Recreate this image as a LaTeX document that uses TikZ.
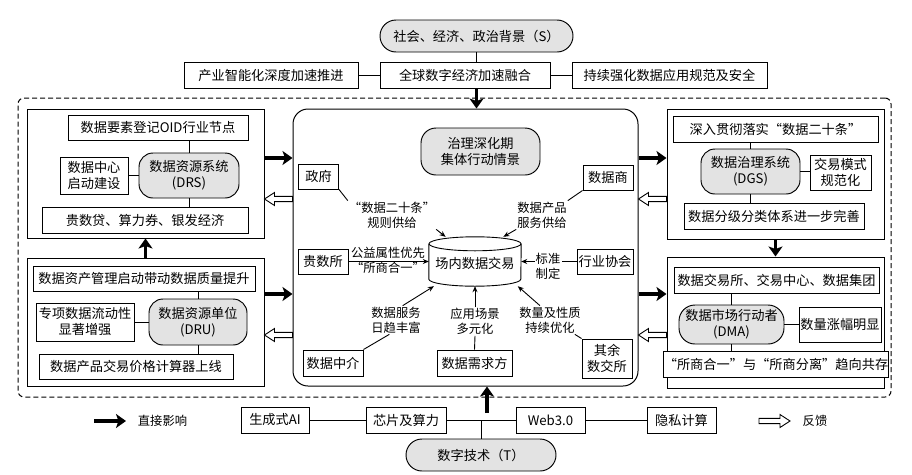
\documentclass[tikz,border=0pt]{standalone}
\usepackage{fontspec}
\setmainfont{Noto Sans CJK SC}
\usetikzlibrary{arrows.meta,calc}
\newcommand\boxfont{\fontsize{13.2}{16}\selectfont}
\newcommand\lblfont{\fontsize{12.3}{15}\selectfont}
\tikzset{
  wh/.style 2 args={minimum width=#1pt, minimum height=#2pt},
  box/.style={draw, line width=0.95pt, fill=white, inner sep=0pt, align=center, font=\boxfont},
  pill/.style={box, fill=black!11, rounded corners=14pt},
  grp/.style={draw, line width=1pt},
  lbl/.style={align=center, font=\lblfont, inner sep=1pt},
  conn/.style={line width=0.9pt},
  arr/.style={conn, -{Stealth[length=6pt,width=5pt]}},
  bigarr/.style={line width=3.4pt, -{Stealth[length=10pt,width=14pt,inset=2.5pt]}},
  hollowline/.style={line width=0.9pt, fill=white, line join=miter},
}
% hollow (feedback) arrow from #1 to #2
\newcommand\hollowarrow[2]{%
  \path (#1) coordinate (ha-s) (#2) coordinate (ha-e);
  \coordinate (ha-b) at ($(ha-e)!10pt!(ha-s)$);
  \draw[hollowline] ($(ha-s)!2.6pt!90:(ha-e)$) -- ($(ha-b)!2.6pt!90:(ha-e)$)
    -- ($(ha-b)!6.5pt!90:(ha-e)$) -- (ha-e) -- ($(ha-b)!6.5pt!-90:(ha-e)$)
    -- ($(ha-b)!2.6pt!-90:(ha-e)$) -- ($(ha-s)!2.6pt!-90:(ha-e)$) -- cycle;
}
\begin{document}
\begin{tikzpicture}[x=1pt,y=-1pt]
\useasboundingbox (0,0) rectangle (912,474);
% helper levels
\coordinate (h1) at (0,158);
\coordinate (h2) at (0,199);
\coordinate (h3) at (0,294);
\coordinate (h4) at (0,335);
% top
\node[pill, wh={193}{32}, rounded corners=16pt] (S) at (476.5,36) {社会、经济、政治背景（S）};
\node[box, wh={174}{26}] (b1) at (271,75) {产业智能化深度加速推进};
\node[box, wh={170}{26}] (b2) at (465,75) {全球数字经济加速融合};
\node[box, wh={195}{26}] (b3) at (669.5,75) {持续强化数据应用规范及安全};
\draw[conn] (S.south) -- (S.south |- b2.north);
\draw[conn] (b1.east) -- (b2.west);
\draw[conn] (b2.east) -- (b3.west);
% dashed frame
\node[draw, line width=1pt, dash pattern=on 5pt off 3pt, rounded corners=6pt, wh={873}{299}] (D) at (454.5,247.5) {};
% center box
\node[draw, line width=1pt, rounded corners=15pt, wh={345}{277}] (C) at (465.5,247.5) {};
\draw[bigarr] (S.south |- b2.south) -- (S.south |- C.north);
% left top group
\node[grp, wh={237}{129}] (LT) at (145.5,173.5) {};
\node[box, wh={180}{25}] (n1) at (158,127.5) {数据要素登记OID行业节点};
\node[box, wh={68}{37}] (n2) at (94,175.5) {数据中心\\启动建设};
\node[pill, wh={100}{45}] (DRS) at (189,175.5) {数据资源系统\\(DRS)};
\node[box, wh={206}{26}] (n3) at (145,220) {贵数贷、算力券、银发经济};
\draw[conn] (DRS.north) -- (DRS.north |- n1.south);
\draw[conn] (DRS.south) -- (DRS.south |- n3.north);
\draw[conn] (n2.east) -- (DRS.west);
% left bottom group
\node[grp, wh={237}{128}] (LB) at (145.5,322) {};
\node[box, wh={222}{25}] (m1) at (144,278.5) {数据资产管理启动带动数据质量提升};
\node[box, wh={98}{38}] (m2) at (85,322) {专项数据流动性\\显著增强};
\node[pill, wh={98}{46}] (DRU) at (198,322) {数据资源单位\\(DRU)};
\node[box, wh={194}{25}] (m3) at (136,366.5) {数据产品交易价格计算器上线};
\draw[conn] (DRU.north) -- (DRU.north |- m1.south);
\draw[conn] (DRU.south) -- (DRU.south |- m3.north);
\draw[conn] (m2.east) -- (DRU.west);
\draw[bigarr] (LB.north) -- (LT.south);
% right top group
\node[grp, wh={217}{130}] (RT) at (775.5,174) {};
\node[box, wh={205}{26}] (r1) at (775.5,129) {深入贯彻落实“数据二十条”};
\node[pill, wh={99}{45}] (DGS) at (750.5,171.5) {数据治理系统\\(DGS)};
\node[box, wh={61}{35}] (r2) at (840.5,172.5) {交易模式\\规范化};
\node[box, wh={180}{26}] (r3) at (774,216) {数据分级分类体系进一步完善};
\draw[conn] (DGS.north) -- (DGS.north |- r1.south);
\draw[conn] (DGS.south) -- (DGS.south |- r3.north);
\draw[conn] (DGS.east) -- (DGS.east -| r2.west);
% right bottom group
\node[grp, wh={217}{131}] (RB) at (775.5,322.5) {};
\node[box, wh={205}{26}] (s1) at (776.5,280) {数据交易所、交易中心、数据集团};
\node[pill, wh={105}{39}, rounded corners=16pt] (DMA) at (731.5,324.5) {数据市场行动者\\(DMA)};
\node[box, wh={82}{35}] (s2) at (840,324.5) {数量涨幅明显};
\node[box, wh={206}{26}] (s3) at (776,364) {“所商合一”与“所商分离”趋向共存};
\draw[conn] (DMA.north) -- (DMA.north |- s1.south);
\draw[conn] (DMA.south) -- (DMA.south |- s3.north);
\draw[conn] (DMA.east) -- (s2.west);
\draw[bigarr] (RT.south) -- (RB.north);
% arrows between groups and center
\draw[bigarr] (LT.east |- h1) -- (C.west |- h1);
\hollowarrow{C.west |- h2}{LT.east |- h2}
\draw[bigarr] (LB.east |- h3) -- (C.west |- h3);
\hollowarrow{C.west |- h4}{LB.east |- h4}
\draw[bigarr] (C.east |- h1) -- (RT.west |- h1);
\hollowarrow{RT.west |- h2}{C.east |- h2}
\draw[bigarr] (C.east |- h3) -- (RB.west |- h3);
\hollowarrow{RB.west |- h4}{C.east |- h4}
% center contents
\node[pill, wh={119}{47}, rounded corners=15pt] (P) at (480.5,151.5) {治理深化期\\集体行动情景};
\node[box, wh={40}{25}] (gov) at (318.5,176.5) {政府};
\node[box, wh={50}{25}] (dealer) at (608,177.5) {数据商};
\node[box, wh={50}{25}] (gsx) at (323,261.5) {贵数所};
\node[box, wh={56}{25}] (assoc) at (605,261.5) {行业协会};
\node[box, wh={60}{26}] (agent) at (333,363) {数据中介};
\node[box, wh={75}{26}] (demand) at (474.5,363) {数据需求方};
\node[box, wh={50}{39}] (other) at (607,358.5) {其余\\数交所};
% cylinder
\node[wh={92}{49}, inner sep=0pt, font=\boxfont] (cyl) at (475,261.5) {};
\draw[line width=0.9pt, fill=white] (cyl.north west) ++(0,7) -- ([yshift=7pt]cyl.south west)
  arc[start angle=180, end angle=360, x radius=46pt, y radius=7pt] -- ([yshift=-7pt]cyl.north east);
\draw[line width=0.9pt] ([yshift=-7pt]cyl.north) ellipse[x radius=46pt, y radius=7pt];
\node[font=\boxfont] at ([yshift=-2pt]cyl.center) {场内数据交易};
% labels
\node[lbl] (L1) at (392,215) {“数据二十条”\\规则供给};
\node[lbl] (L2) at (542,215) {数据产品\\服务供给};
\node[lbl] (L3) at (388,260.5) {公益属性优先\\“所商合一”};
\node[lbl] (L4) at (548,266) {标准\\制定};
\node[lbl] (L5) at (396,320) {数据服务\\日趋丰富};
\node[lbl] (L6) at (475,321.5) {应用场景\\多元化};
\node[lbl] (L7) at (550,320) {数量及性质\\持续优化};
\draw[conn] (gov.south east) -- (L1.north west);
\draw[arr] (L1.south east) -- (cyl.140);
\draw[conn] (dealer.south west) -- (L2.north east);
\draw[arr] (L2.south west) -- (cyl.41);
\draw[arr] (gsx.east) -- (cyl.west);
\draw[conn] (assoc.west) -- (L4.east |- assoc.west);
\draw[arr] (L4.west |- assoc.west) -- (cyl.east |- assoc.west);
\draw[conn] (agent.north east) -- (L5.245);
\draw[arr] (L5.65) -- (cyl.211);
\draw[conn] (demand.north) -- (L6.south);
\draw[arr] (L6.north) -- (cyl.south);
\draw[conn] (other.north west) -- (L7.-30);
\draw[arr] (L7.125) -- (cyl.-30);
% bottom technology row
\node[box, wh={68}{26}] (t1) at (275,420) {生成式AI};
\node[box, wh={80}{26}] (t2) at (406,420) {芯片及算力};
\node[box, wh={69}{26}] (t3) at (550.5,420) {Web3.0};
\node[box, wh={69}{26}] (t4) at (681.5,420) {隐私计算};
\node[pill, wh={150}{32}, rounded corners=16pt] (T) at (481,455) {数字技术（T）};
\draw[conn] (t1.east) -- (t2.west);
\draw[conn] (t2.east) -- (t3.west);
\draw[conn] (t3.east) -- (t4.west);
\draw[conn] (T.north) -- (T.north |- t2.east);
\coordinate (ua) at (487,413);
\draw[bigarr] (ua) -- (ua |- C.south);
% legend
\coordinate (la1) at (94,421);
\coordinate (la2) at (126,421);
\draw[bigarr] (la1) -- (la2);
\node[lbl] (lt1) at (162.5,421) {直接影响};
\coordinate (lb1) at (759,421);
\coordinate (lb2) at (790,421);
\hollowarrow{lb1}{lb2}
\node[lbl] (lt2) at (815,421) {反馈};
\end{tikzpicture}
\end{document}
